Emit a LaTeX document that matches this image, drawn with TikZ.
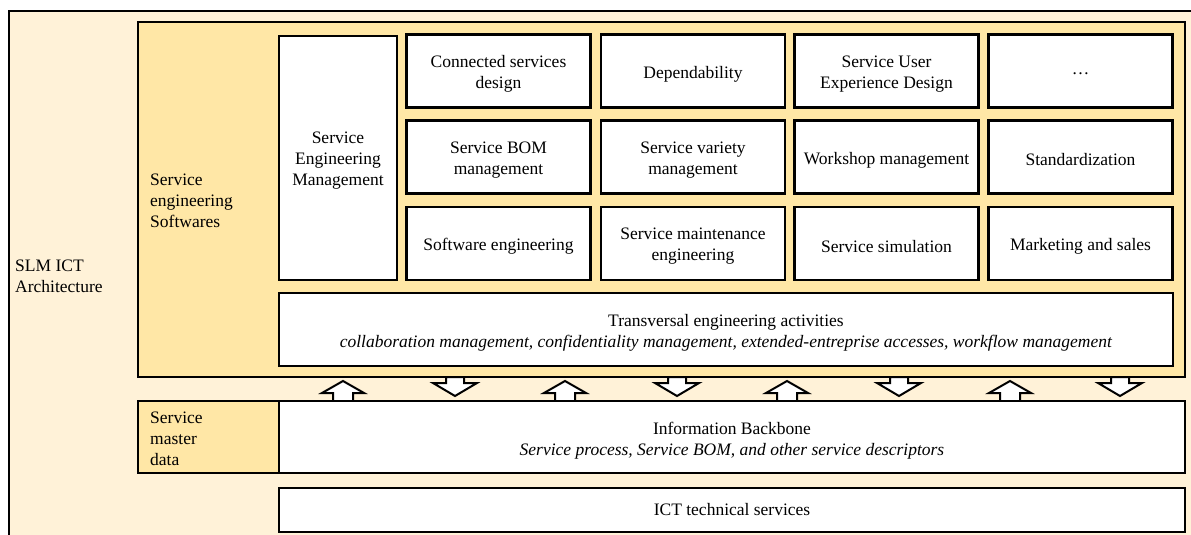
\documentclass[tikz,border=0pt]{standalone}
\usepackage{fontspec}
\setmainfont{Liberation Serif}
\definecolor{cream}{RGB}{255,242,216}
\definecolor{ylw}{RGB}{255,231,166}
\newcommand\cellbox[6]{% name, position, width, height, text shift, text
  \node[cellframe, minimum width=#3, minimum height=#4] (#1) at (#2) {};
  \node[celltext] (#1-t) at ([yshift=#5]#1.center) {#6};}
\begin{document}
\begin{tikzpicture}[x=1pt,y=-1pt,
  frame/.style={draw=black, line width=2.2pt, inner sep=0pt, outer sep=0pt},
  cellframe/.style={frame, fill=white},
  celltext/.style={align=center, inner sep=0pt, font=\fontsize{17.5}{21}\selectfont},
  lbl/.style={anchor=west, align=left, inner sep=0pt, font=\fontsize{17.5}{21}\selectfont},
  blockarrow/.style={draw=black, fill=white, line width=2pt, line join=miter}]
\useasboundingbox (0,0) rectangle (1191,535);
\begin{scope}
\clip (0,0) rectangle (1191,535);
% outer architecture box
\node[frame, fill=cream, minimum width=1191pt, minimum height=534pt] (outer) at (604.5,278) {};
\node[lbl] (slm) at (15,276) {SLM ICT\\Architecture};
% service engineering softwares
\node[frame, fill=ylw, minimum width=1047pt, minimum height=355pt] (ses) at (661.5,199.5) {};
\node[lbl] (seslbl) at (150,201) {Service\\engineering\\Softwares};
\cellbox{sem}{338,158}{118pt}{244pt}{-3pt}{Service\\Engineering\\Management}
% grid
\cellbox{c11}{498.5,71}{184pt}{73pt}{-3pt}{Connected services\\design}
\cellbox{c12}{693,71}{184pt}{73pt}{-3pt}{Dependability}
\cellbox{c13}{886.5,71}{184pt}{73pt}{-3pt}{Service User\\Experience Design}
\cellbox{c14}{1080.5,71}{184pt}{73pt}{-3pt}{\dots}
\cellbox{c21}{498.5,157}{184pt}{73pt}{-3pt}{Service BOM\\management}
\cellbox{c22}{693,157}{184pt}{73pt}{-3pt}{Service variety\\management}
\cellbox{c23}{886.5,157}{184pt}{73pt}{-3pt}{Workshop management}
\cellbox{c24}{1080.5,157}{184pt}{73pt}{-3pt}{Standardization}
\cellbox{c31}{498.5,243.5}{184pt}{73pt}{-3pt}{Software engineering}
\cellbox{c32}{693,243.5}{184pt}{73pt}{-3pt}{Service maintenance\\engineering}
\cellbox{c33}{886.5,243.5}{184pt}{73pt}{-3pt}{Service simulation}
\cellbox{c34}{1080.5,243.5}{184pt}{73pt}{-3pt}{Marketing and sales}
\cellbox{trans}{726,329.5}{894pt}{73pt}{-3pt}{Transversal engineering activities\\\textit{collaboration management, confidentiality management, extended-entreprise accesses, workflow management}}
% arrows
\foreach \cx in {343,565,787,1010}{
  \draw[blockarrow] (\cx-10,401) -- (\cx-10,393) -- (\cx-21,393) -- (\cx,381) -- (\cx+21,393) -- (\cx+10,393) -- (\cx+10,401) -- cycle;
}
\foreach \cx in {455,677,899,1120}{
  \draw[blockarrow] (\cx-9,377) -- (\cx-9,383) -- (\cx-22,383) -- (\cx,396) -- (\cx+22,383) -- (\cx+9,383) -- (\cx+9,377) -- cycle;
}
% service master data
\node[frame, fill=ylw, minimum width=141pt, minimum height=72pt] (smd) at (208.5,437) {};
\node[lbl] (smdlbl) at (150,439) {Service\\master\\data};
\cellbox{ib}{732,437}{906pt}{72pt}{-3.5pt}{Information Backbone\\\textit{Service process, Service BOM, and other service descriptors}}
\cellbox{ict}{732,510}{906pt}{44pt}{0pt}{ICT technical services}
\end{scope}
\end{tikzpicture}
\end{document}
